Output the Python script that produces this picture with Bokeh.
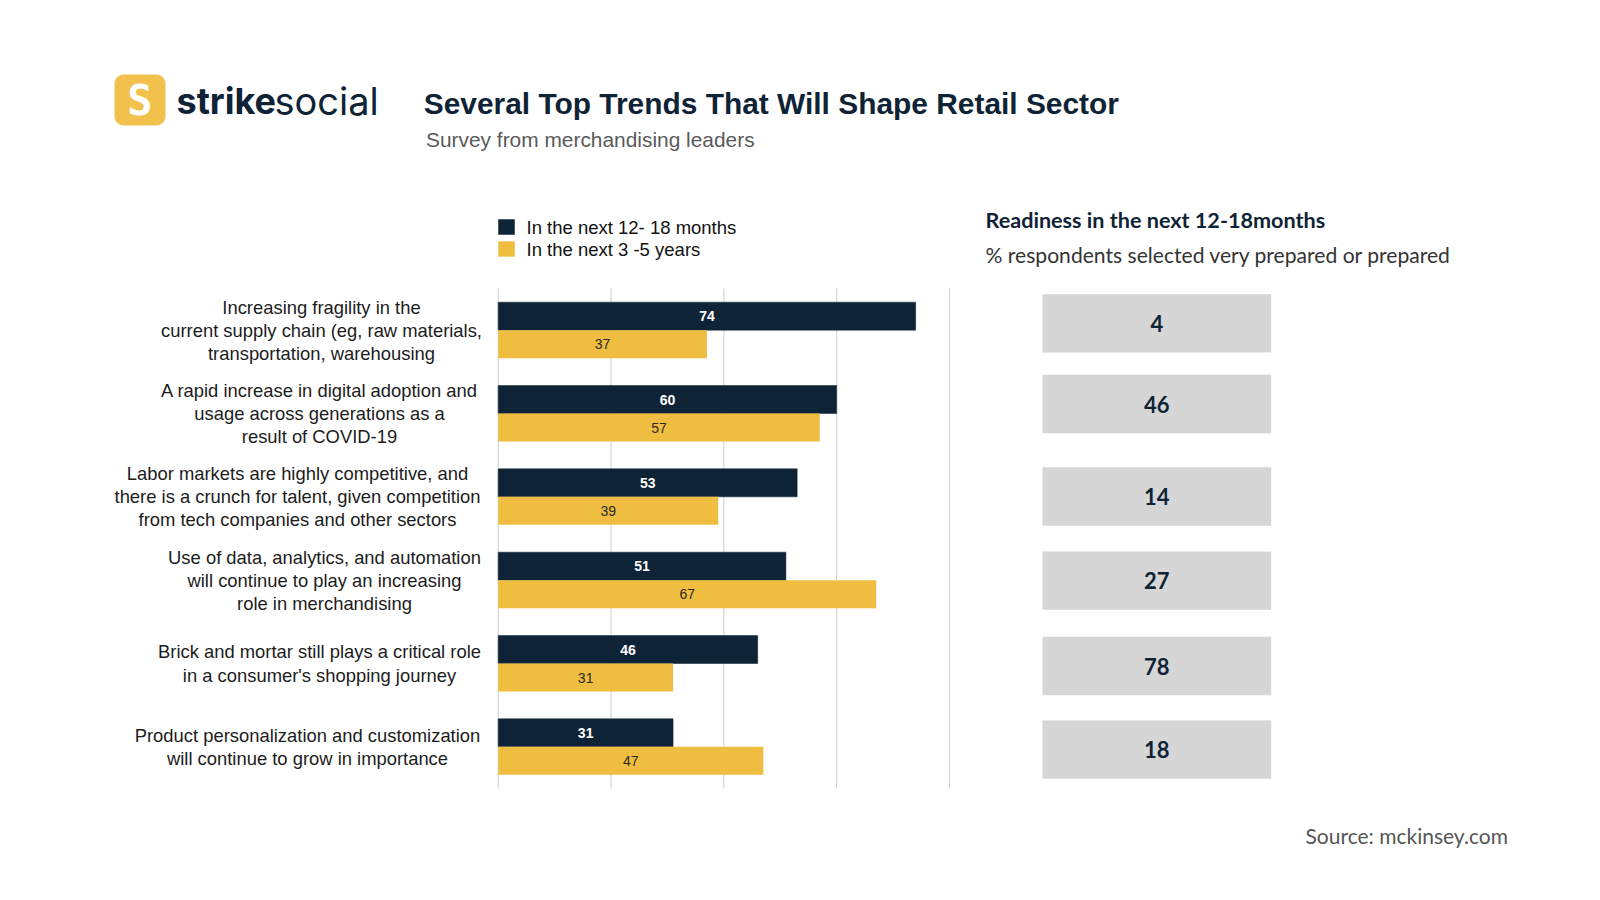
from bokeh.plotting import figure
from bokeh.models import Range1d
from bokeh.core.properties import value
from bokeh.embed import file_html
from bokeh.resources import INLINE

# ---------------- data ----------------
categories = [
    "Increasing fragility in the\ncurrent supply chain (eg, raw materials,\ntransportation, warehousing",
    "A rapid increase in digital adoption and\nusage across generations as a\nresult of COVID-19",
    "Labor markets are highly competitive, and\nthere is a crunch for talent, given competition\nfrom tech companies and other sectors",
    "Use of data, analytics, and automation\nwill continue to play an increasing\nrole in merchandising",
    "Brick and mortar still plays a critical role\nin a consumer's shopping journey",
    "Product personalization and customization\nwill continue to grow in importance",
]
next_12_18_months = [74, 60, 53, 51, 46, 31]
next_3_5_years = [37, 57, 39, 67, 31, 47]
readiness = [4, 46, 14, 27, 78, 18]
series_names = ["In the next 12- 18 months", "In the next 3 -5 years"]
x_ticks = [0, 20, 40, 60, 80]

title = "Several Top Trends That Will Shape Retail Sector"
subtitle = "Survey from merchandising leaders"
ready_title = "Readiness in the next 12-18months"
ready_sub = "% respondents selected very prepared or prepared"
source = "Source:  mckinsey.com"

# ---------------- style / layout ----------------
NAVY = "#0f2337"
YELLOW = "#efbd3f"
BOXGRAY = "#d6d6d6"
GRID = "#cfcfcf"
W, H = 1584, 880

X0 = 497.7            # page x of value 0
X80 = 949.0           # page x of value 80
PPU = (X80 - X0) / 80.0
TOP, BOT = 288.0, 788.0
PITCH = (BOT - TOP) / len(categories)
BAR_H = 28.0
label_cx = [321, 319, 297, 324, 319, 307]           # centre of each label block
box_nudge = [-6.8, -9.5, -0.3, 0.5, 2.5, 2.8]       # readiness box offsets
BOX_L, BOX_R, BOX_H = 1042.0, 1270.7, 58.4

p = figure(width=W, height=H, output_backend="svg", toolbar_location=None,
           x_range=Range1d(0, W), y_range=Range1d(H, 0),
           x_axis_location=None, y_axis_location=None,
           min_border=0, min_border_left=0, min_border_right=0,
           min_border_top=0, min_border_bottom=0,
           outline_line_color=None, background_fill_color="white",
           border_fill_color="white")
p.grid.visible = False
p.extra_x_ranges = {"pct": Range1d(start=-X0 / PPU, end=(W - X0) / PPU)}

n = len(categories)
centers = [TOP + (i + 0.5) * PITCH for i in range(n)]
y_dark = [c - BAR_H / 2 for c in centers]
y_yel = [c + BAR_H / 2 for c in centers]

# grid lines
p.segment(x0=x_ticks, x1=x_ticks, y0=[TOP] * len(x_ticks), y1=[BOT] * len(x_ticks),
          x_range_name="pct", line_color=GRID, line_width=1)

# bars
p.hbar(y=y_dark, left=0, right=next_12_18_months, height=BAR_H, x_range_name="pct",
       fill_color=NAVY, line_color=NAVY, line_width=0.5)
p.hbar(y=y_yel, left=0, right=next_3_5_years, height=BAR_H, x_range_name="pct",
       fill_color=YELLOW, line_color=None)

# bar labels
p.text(x=[v / 2 for v in next_12_18_months], y=y_dark, text=[str(v) for v in next_12_18_months],
       x_range_name="pct", text_align="center", text_baseline="middle",
       text_font=value("Liberation Sans"), text_font_style="bold", text_font_size="14px",
       text_color="white")
p.text(x=[v / 2 for v in next_3_5_years], y=y_yel, text=[str(v) for v in next_3_5_years],
       x_range_name="pct", text_align="center", text_baseline="middle",
       text_font=value("Liberation Sans"), text_font_size="14px", text_color="#2a2a2a")

# category labels
p.text(x=label_cx, y=centers, text=categories, text_align="center", text_baseline="middle",
       text_font=value("Liberation Sans"), text_font_size="18.4px", text_color="#1c1c1c",
       text_line_height=1.1)

# legend
p.rect(x=[506, 506], y=[226.6, 248.4], width=16.5, height=15.5,
       fill_color=[NAVY, YELLOW], line_color=None)
p.text(x=[526, 526], y=[226.7, 248.8], text=series_names, text_align="left",
       text_baseline="middle", text_font=value("Liberation Sans"),
       text_font_size="18.5px", text_color="#111111")

# readiness panel
box_y = [c + d for c, d in zip(centers, box_nudge)]
p.rect(x=(BOX_L + BOX_R) / 2, y=box_y, width=BOX_R - BOX_L, height=BOX_H,
       fill_color=BOXGRAY, line_color=None)
p.text(x=(BOX_L + BOX_R) / 2, y=box_y, text=[str(v) for v in readiness],
       text_align="center", text_baseline="middle", text_font=value("Lato"),
       text_font_style="bold", text_font_size="22px", text_color=NAVY)
p.text(x=[985], y=[219.5], text=[ready_title], text_baseline="middle",
       text_font=value("Lato"), text_font_style="bold", text_font_size="21.6px",
       text_color=NAVY)
p.text(x=[985], y=[253.5], text=[ready_sub], text_baseline="middle",
       text_font=value("Lato"), text_font_size="21.1px", text_color="#333333")

# header: logo
p.quad(left=[114], right=[165], top=[74], bottom=[125], border_radius=9,
       fill_color="#f2c14b", line_color=None)
p.text(x=[139.5], y=[100], text=["S"], text_align="center", text_baseline="middle",
       text_font=value("DejaVu Sans Mono"), text_font_style="bold", text_font_size="42px",
       text_color="white")
p.text(x=[176], y=[100.5], text=["strike"], text_baseline="middle",
       text_font=value("Inter"), text_font_style="bold", text_font_size="36px",
       text_color=NAVY)
p.text(x=[274], y=[100.5], text=["social"], text_baseline="middle",
       text_font=value("Inter"), text_font_size="38px", text_color=NAVY)

# titles
p.text(x=[423.3], y=[103], text=[title], text_baseline="middle",
       text_font=value("Liberation Sans"), text_font_style="bold",
       text_font_size="29.9px", text_color=NAVY)
p.text(x=[425.5], y=[139], text=[subtitle], text_baseline="middle",
       text_font=value("Liberation Sans"), text_font_size="20.9px", text_color="#5a5a5a")

# source
p.text(x=[1305], y=[834.8], text=[source], text_baseline="middle",
       text_font=value("Lato"), text_font_size="21px", text_color="#555555")

open("out.html", "w").write(file_html(p, INLINE))
